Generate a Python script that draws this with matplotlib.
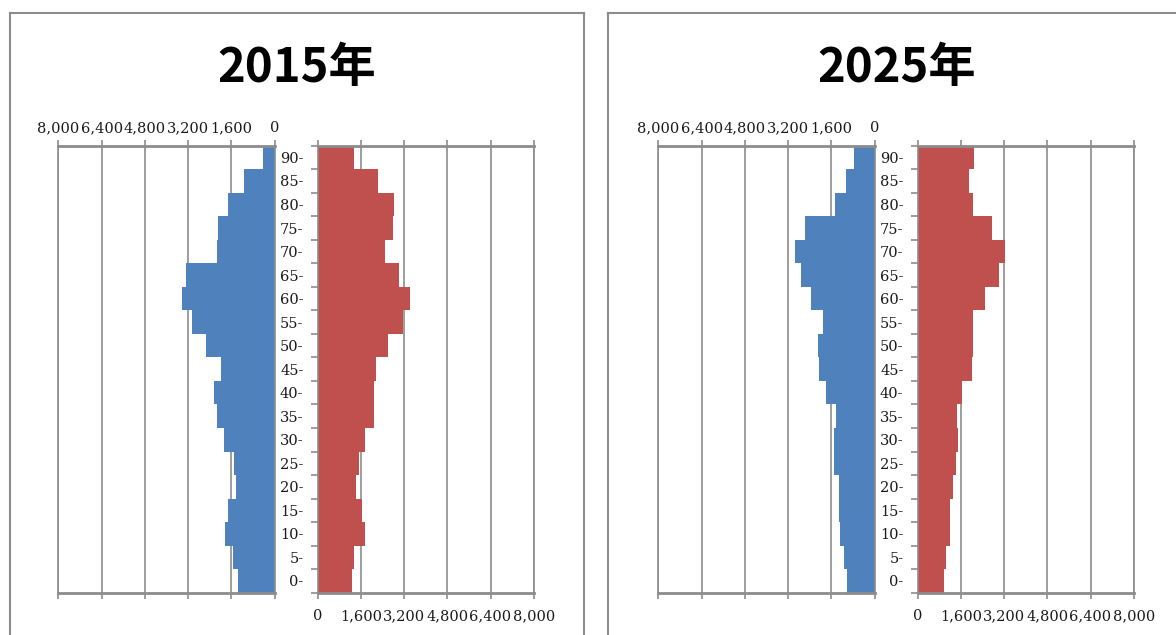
import matplotlib
matplotlib.use("Agg")
import matplotlib.pyplot as plt
from matplotlib.lines import Line2D
import numpy as np

# Age groups (bottom to top)
ages = ["0-", "5-", "10-", "15-", "20-", "25-", "30-", "35-", "40-", "45-",
        "50-", "55-", "60-", "65-", "70-", "75-", "80-", "85-", "90-"]

years = ["2015年", "2025年"]

male_2015 = [1345, 1541, 1837, 1737, 1442, 1493, 1885, 2133, 2233, 1985,
             2528, 3068, 3416, 3279, 2133, 2085, 1737, 1135, 444]
female_2015 = [1250, 1346, 1743, 1644, 1398, 1533, 1743, 2090, 2090, 2140,
               2585, 3165, 3424, 3016, 2485, 2782, 2830, 2225, 1346]

male_2025 = [1023, 1119, 1266, 1318, 1318, 1514, 1514, 1414, 1809, 2056,
             2104, 1909, 2352, 2743, 2942, 2595, 1451, 1045, 764]
female_2025 = [952, 1048, 1196, 1196, 1296, 1396, 1493, 1444, 1641, 1989,
               2037, 2037, 2481, 3011, 3211, 2729, 2037, 1889, 2085]

ticks = [0, 1600, 3200, 4800, 6400, 8000]
tick_labels = ["0", "1,600", "3,200", "4,800", "6,400", "8,000"]

BLUE = "#4F81BD"
RED = "#C0504D"
GRID = "#8c8c8c"
TXT = "#1a1a1a"
SERIF = "DejaVu Serif"
FS = 10.5

W, H = 1176, 635
fig = plt.figure(figsize=(W / 100, H / 100), dpi=100)
fig.patch.set_facecolor("white")


def px_axes(x0, x1, top, bottom):
    return fig.add_axes([x0 / W, (H - bottom) / H, (x1 - x0) / W, (bottom - top) / H])


def style_axes(ax):
    ax.set_facecolor("white")
    ax.grid(axis="x", color=GRID, lw=1.2)
    ax.grid(axis="y", visible=False)
    ax.set_axisbelow(True)
    for side in ("left", "right"):
        ax.spines[side].set_color(GRID)
        ax.spines[side].set_linewidth(1.2)
    for side in ("top", "bottom"):
        ax.spines[side].set_color(GRID)
        ax.spines[side].set_linewidth(2.0)


def draw_panel(offset, male, female, title):
    y = np.arange(len(ages))

    # male side (left, reversed axis)
    axl = px_axes(58.3 + offset, 274.7 + offset, 145.7, 592.7)
    axl.barh(y, male, height=1.0, color=BLUE, linewidth=0)
    axl.set_xlim(8000, 0)
    axl.set_ylim(-0.5, len(ages) - 0.5)
    axl.set_xticks(ticks)
    axl.set_xticklabels(tick_labels, fontfamily=SERIF, fontsize=FS, color=TXT)
    axl.tick_params(axis="x", top=True, bottom=True, labeltop=True,
                    labelbottom=False, direction="out", length=4,
                    width=1.2, color=GRID, pad=3.5)
    axl.set_yticks([])
    style_axes(axl)

    # female side (right)
    axr = px_axes(318 + offset, 533.7 + offset, 145.7, 592.7)
    axr.barh(y, female, height=1.0, color=RED, linewidth=0)
    axr.set_xlim(0, 8000)
    axr.set_ylim(-0.5, len(ages) - 0.5)
    axr.set_xticks(ticks)
    axr.set_xticklabels(tick_labels, fontfamily=SERIF, fontsize=FS, color=TXT)
    axr.tick_params(axis="x", top=True, bottom=True, labeltop=False,
                    labelbottom=True, direction="out", length=4,
                    width=1.2, color=GRID, pad=8)
    axr.set_yticks(y)
    axr.set_yticklabels(ages, fontfamily=SERIF, fontsize=FS, color=TXT)
    axr.set_yticks(np.arange(-0.5, len(ages), 1.0), minor=True)
    axr.tick_params(axis="y", which="major", length=0, pad=10.5)
    axr.tick_params(axis="y", which="minor", length=5, width=1.2,
                    color=GRID, direction="out")
    style_axes(axr)

    # panel title
    cx = (296.7 + offset) / W
    fig.text(cx, (H - 81.5) / H, title, ha="center", va="baseline",
             fontfamily=["Noto Sans CJK JP", "DejaVu Sans"],
             fontweight="bold", fontsize=34, color="black")


draw_panel(0, male_2015, female_2015, years[0])
draw_panel(600, male_2025, female_2025, years[1])


# panel frames
def fig_line(xs, ys):
    fig.add_artist(Line2D([x / W for x in xs], [(H - v) / H for v in ys],
                          transform=fig.transFigure, color=GRID, lw=1.5))


fig_line([9.5, 9.5], [12.5, 640])
fig_line([9.5, 584], [12.5, 12.5])
fig_line([584, 584], [12.5, 640])
fig_line([607.5, 607.5], [12.5, 640])
fig_line([607.5, 1180], [12.5, 12.5])

fig.savefig("out.png", dpi=100, facecolor="white")
